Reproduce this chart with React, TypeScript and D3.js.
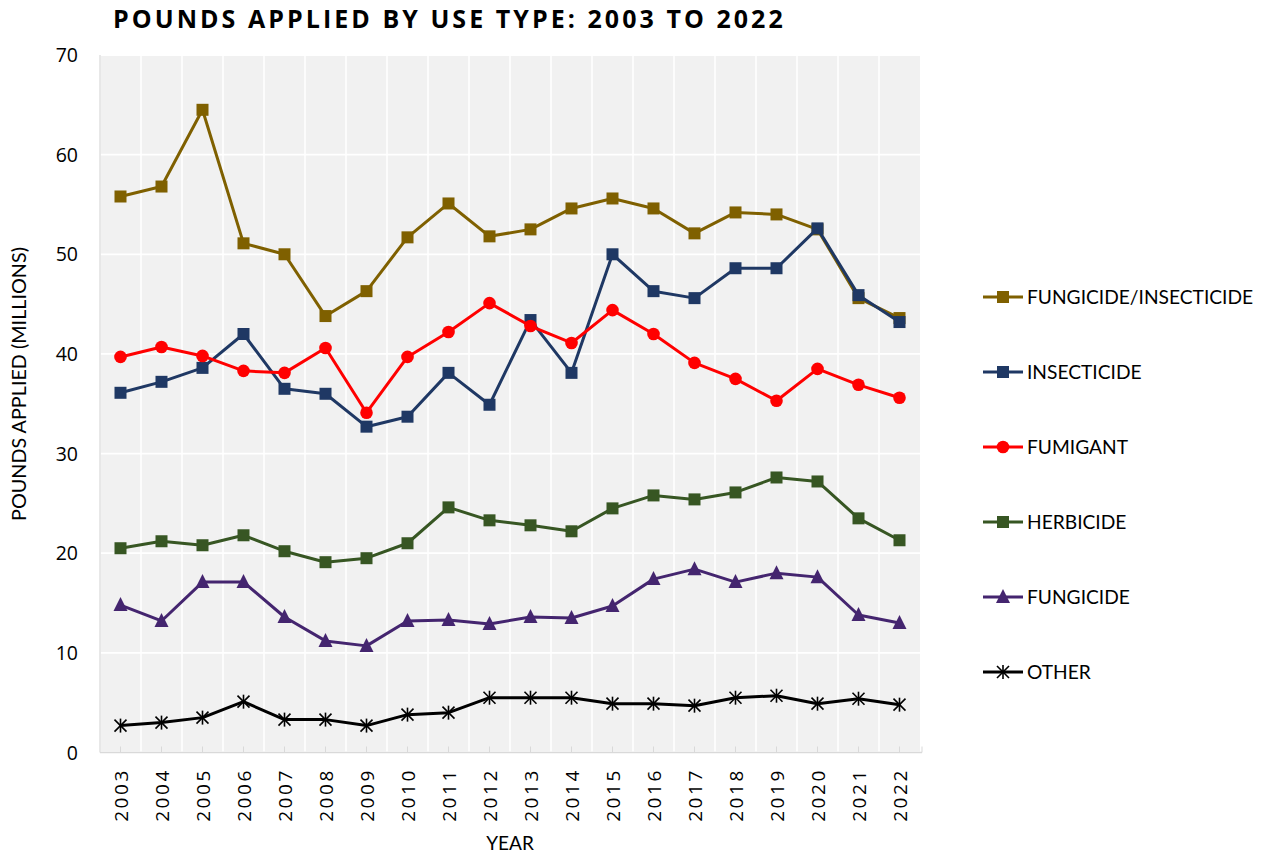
import React from "react";
import * as d3 from "d3";

const years = ["2003","2004","2005","2006","2007","2008","2009","2010","2011","2012","2013","2014","2015","2016","2017","2018","2019","2020","2021","2022"];
const fungInsect = [55.8,56.8,64.5,51.1,50.0,43.8,46.3,51.7,55.1,51.8,52.5,54.6,55.6,54.6,52.1,54.2,54.0,52.5,45.6,43.6];
const insecticide = [36.1,37.2,38.6,42.0,36.5,36.0,32.7,33.7,38.1,34.9,43.4,38.1,50.0,46.3,45.6,48.6,48.6,52.6,45.9,43.2];
const fumigant = [39.7,40.7,39.8,38.3,38.1,40.6,34.1,39.7,42.2,45.1,42.8,41.1,44.4,42.0,39.1,37.5,35.3,38.5,36.9,35.6];
const herbicide = [20.5,21.2,20.8,21.8,20.2,19.1,19.5,21.0,24.6,23.3,22.8,22.2,24.5,25.8,25.4,26.1,27.6,27.2,23.5,21.3];
const fungicide = [14.8,13.2,17.1,17.1,13.6,11.2,10.7,13.2,13.3,12.9,13.6,13.5,14.7,17.4,18.4,17.1,18.0,17.6,13.8,13.0];
const other = [2.7,3.0,3.5,5.1,3.3,3.3,2.7,3.8,4.0,5.5,5.5,5.5,4.9,4.9,4.7,5.5,5.7,4.9,5.4,4.8];
const yTicks = [0,10,20,30,40,50,60,70];

const seriesNames = ["FUNGICIDE/INSECTICIDE","INSECTICIDE","FUMIGANT","HERBICIDE","FUNGICIDE","OTHER"];
const seriesValues = [fungInsect, insecticide, fumigant, herbicide, fungicide, other];
const seriesColors = ["#7f6000","#1f3864","#ff0000","#375623","#44256f","#000000"];
const seriesMarkers = ["square","square","circle","square","triangle","star"];

const L = 100, R = 920, T = 55, B = 752.5;

function Marker({ type, x, y, color }: { type: string; x: number; y: number; color: string }) {
  if (type === "square") return <rect x={x - 6} y={y - 6} width={12} height={12} fill={color} />;
  if (type === "circle") return <circle cx={x} cy={y} r={6.3} fill={color} />;
  if (type === "triangle") {
    const s = 7;
    return <path d={`M${x},${y - s - 1}L${x + s},${y + s - 1}L${x - s},${y + s - 1}Z`} fill={color} />;
  }
  const s = 6;
  return (
    <g stroke={color} strokeWidth={1.6}>
      <line x1={x - s} y1={y - s} x2={x + s} y2={y + s} />
      <line x1={x - s} y1={y + s} x2={x + s} y2={y - s} />
      <line x1={x} y1={y - s - 1} x2={x} y2={y + s + 1} />
    </g>
  );
}

export default function App() {
  const x = d3.scaleBand<string>().domain(years).range([L, R]);
  const y = d3.scaleLinear().domain([0, 70]).range([B, T]);
  const cx = (yr: string) => (x(yr) as number) + x.bandwidth() / 2;
  const line = d3.line<number>().x((_, i) => cx(years[i])).y((v) => y(v));

  const legendY = [297, 372, 447, 522, 597, 672];

  return (
    <svg width={1267} height={855} style={{ display: "block", position: "absolute", left: 0, top: 0 }}>
      <rect x={0} y={0} width={1267} height={855} fill="#fff" />
      <text x={113} y={28} fontFamily="Open Sans" fontWeight={700} fontSize={25} letterSpacing={3.05} fill="#000">
        POUNDS APPLIED BY USE TYPE: 2003 TO 2022
      </text>
      <rect x={L} y={T} width={R - L} height={B - T} fill="#f1f1f1" />
      {years.map((yr) => (
        <line key={"vg" + yr} x1={x(yr) as number} x2={x(yr) as number} y1={T} y2={B} stroke="#fff" strokeWidth={1.5} />
      ))}
      {yTicks.map((t) => (
        <line key={"hg" + t} x1={L} x2={R} y1={y(t)} y2={y(t)} stroke="#fff" strokeWidth={1.8} />
      ))}
      <line x1={L} x2={L} y1={T} y2={B} stroke="#d9d9d9" strokeWidth={1.2} />
      <line x1={L} x2={R + 2} y1={B} y2={B} stroke="#d9d9d9" strokeWidth={1.5} />
      {years.map((yr) => (
        <line key={"tk" + yr} x1={cx(yr)} x2={cx(yr)} y1={B - 6} y2={B} stroke="#d9d9d9" strokeWidth={1} />
      ))}
      <line x1={R + 2} x2={R + 2} y1={B - 6} y2={B} stroke="#d9d9d9" strokeWidth={1} />
      {yTicks.map((t) => (
        <text key={"yl" + t} x={78} y={y(t) + 7} textAnchor="end" fontFamily="Open Sans" fontSize={19.5} fill="#000">
          {t}
        </text>
      ))}
      {years.map((yr) => (
        <text key={"xl" + yr} transform={`translate(${cx(yr) + 7},768) rotate(-90)`} textAnchor="end" fontFamily="Open Sans" fontSize={19} letterSpacing={2.6} fill="#000">
          {yr}
        </text>
      ))}
      <text x={510} y={850} textAnchor="middle" fontFamily="Lato" fontSize={19} fill="#000">YEAR</text>
      <text transform="translate(26,384) rotate(-90)" textAnchor="middle" fontFamily="Lato" fontSize={19.8} fill="#000">
        POUNDS APPLIED (MILLIONS)
      </text>
      {seriesValues.map((vals, si) => (
        <g key={"s" + si}>
          <path d={line(vals) || ""} fill="none" stroke={seriesColors[si]} strokeWidth={3} strokeLinejoin="round" />
          {vals.map((v, i) => (
            <Marker key={i} type={seriesMarkers[si]} x={cx(years[i])} y={y(v)} color={seriesColors[si]} />
          ))}
        </g>
      ))}
      {seriesNames.map((n, si) => (
        <g key={"lg" + si}>
          <line x1={983} x2={1023} y1={legendY[si]} y2={legendY[si]} stroke={seriesColors[si]} strokeWidth={3} />
          <Marker type={seriesMarkers[si]} x={1003} y={legendY[si]} color={seriesColors[si]} />
          <text x={1027} y={legendY[si] + 6.5} fontFamily="Lato" fontSize={19.2} fill="#000">{n}</text>
        </g>
      ))}
    </svg>
  );
}
